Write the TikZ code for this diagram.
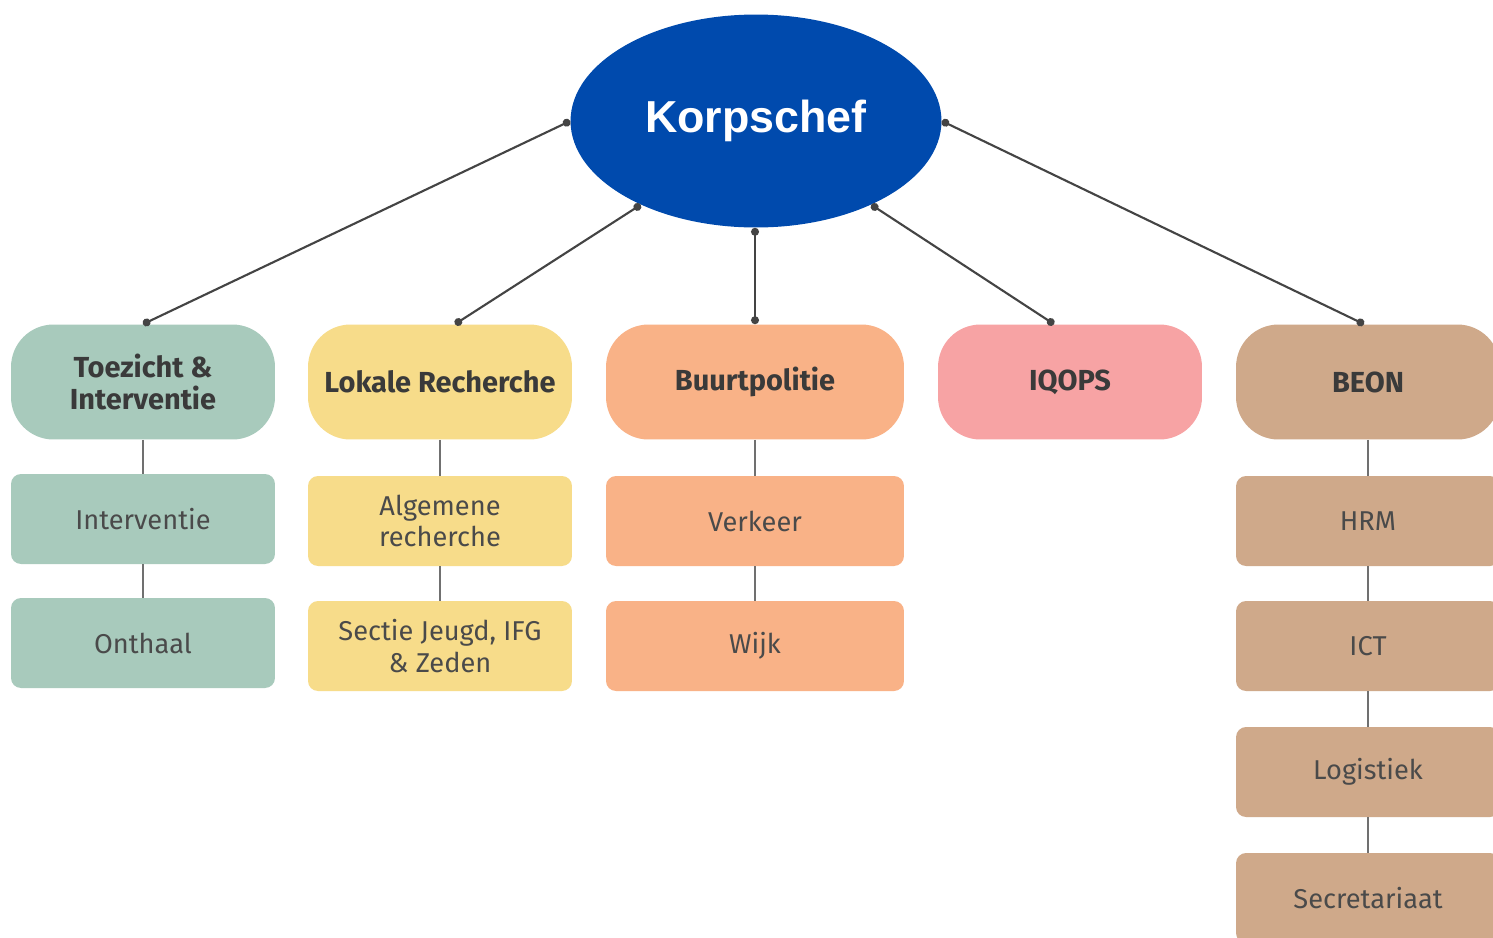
\documentclass[tikz,border=0pt]{standalone}
\usepackage{fontspec}
\setmainfont{Fira Sans}
\newfontfamily\chieffont{Liberation Sans}
\usetikzlibrary{arrows.meta,shapes.geometric}
\definecolor{chefblue}{HTML}{004AAD}
\definecolor{toezcol}{HTML}{A8CABC}
\definecolor{lokcol}{HTML}{F7DC8A}
\definecolor{buurtcol}{HTML}{F9B287}
\definecolor{iqcol}{HTML}{F7A3A4}
\definecolor{beoncol}{HTML}{CFA98A}
\definecolor{textgray}{HTML}{3A3A3A}
\definecolor{subgray}{HTML}{4A4A4A}
\definecolor{linegray}{HTML}{444444}
\definecolor{stemgray}{HTML}{707070}

\begin{document}
\begin{tikzpicture}[x=0.02cm, y=-0.02cm,
  head/.style={rounded corners=0.85cm, minimum height=2.3cm, minimum width=5.28cm,
    align=center, font=\fontsize{16.5}{18}\selectfont\bfseries, text=textgray},
  sub/.style={rounded corners=0.2cm, minimum height=1.8cm, minimum width=5.28cm,
    align=center, font=\fontsize{15.5}{18}\selectfont, text=subgray},
  link/.style={draw=linegray, line width=1.2pt, {Circle[length=4.5pt]}-{Circle[length=4.5pt]}},
  stem/.style={draw=stemgray, line width=1.5pt}]
  \path[use as bounding box, fill=white] (0,0) rectangle (1493,937);

  % top
  \node[ellipse, fill=chefblue, inner sep=0pt, minimum width=7.42cm, minimum height=4.26cm,
    text=white, font=\chieffont\fontsize{25.5}{28}\selectfont\bfseries] (chef) at (756,121) {Korpschef};

  % departments
  \node[head, fill=toezcol] (toez) at (143,382) {Toezicht \&\\Interventie};
  \node[head, fill=lokcol] (lok) at (440,382) {Lokale Recherche};
  \node[head, fill=buurtcol, minimum width=5.96cm] (buurt) at (755,382) {Buurtpolitie};
  \node[head, fill=iqcol] (iqops) at (1070,382) {IQOPS};
  \node[head, fill=beoncol] (beon) at (1368,382) {BEON};

  % units
  \node[sub, fill=toezcol] (interv) at (143,519) {Interventie};
  \node[sub, fill=toezcol] (onthaal) at (143,643) {Onthaal};
  \node[sub, fill=lokcol] (algrech) at (440,521) {Algemene\\recherche};
  \node[sub, fill=lokcol] (jeugd) at (440,646) {Sectie Jeugd, IFG\\\& Zeden};
  \node[sub, fill=buurtcol, minimum width=5.96cm] (verkeer) at (755,521) {Verkeer};
  \node[sub, fill=buurtcol, minimum width=5.96cm] (wijk) at (755,646) {Wijk};
  \node[sub, fill=beoncol] (hrm) at (1368,521) {HRM};
  \node[sub, fill=beoncol] (ict) at (1368,646) {ICT};
  \node[sub, fill=beoncol] (logist) at (1368,772) {Logistiek};
  \node[sub, fill=beoncol] (secr) at (1368,898) {Secretariaat};

  % links from the chief
  \draw[link] (chef.west) -- (toez.north);
  \draw[link] (chef.216) -- ([xshift=0.3cm]lok.north);
  \draw[link] (buurt.north |- chef.south) -- (buurt.north);
  \draw[link] (chef.324) -- ([xshift=-0.32cm]iqops.north);
  \draw[link] (chef.east) -- ([xshift=-0.08cm]beon.north);

  % stems
  \draw[stem] (toez) -- (interv) -- (onthaal);
  \draw[stem] (lok) -- (algrech) -- (jeugd);
  \draw[stem] (buurt) -- (verkeer) -- (wijk);
  \draw[stem] (beon) -- (hrm) -- (ict) -- (logist) -- (secr);
\end{tikzpicture}
\end{document}
